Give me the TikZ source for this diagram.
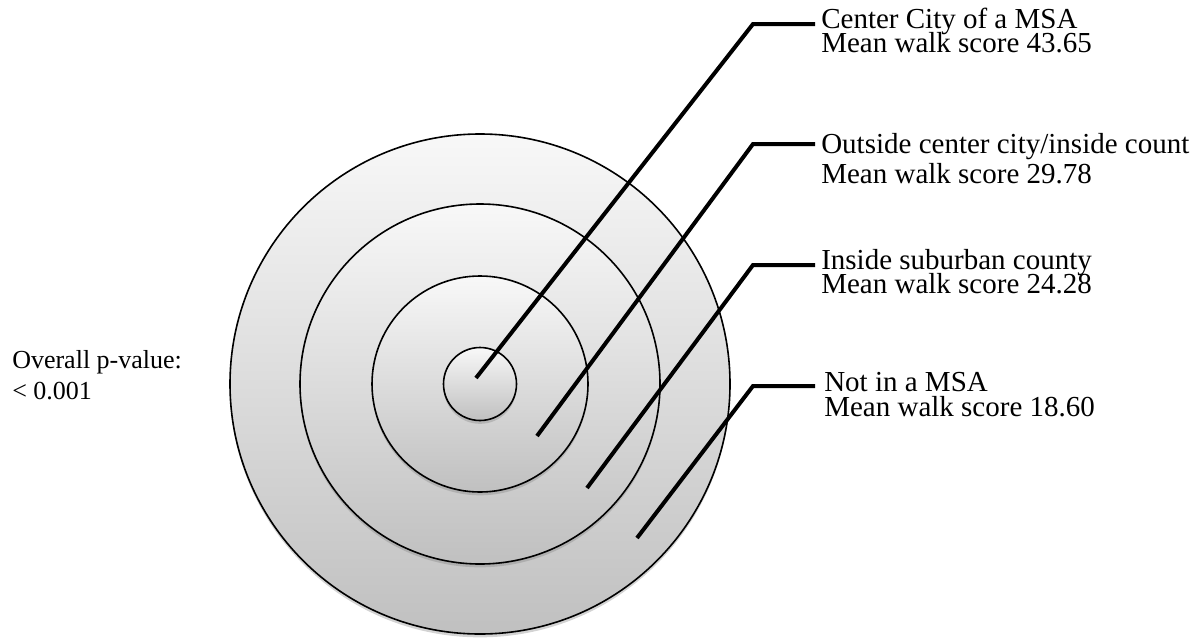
\documentclass[tikz,border=0pt]{standalone}
\usepackage{fontspec}
\setmainfont{Liberation Serif}
\usetikzlibrary{positioning,shadows}
\definecolor{ringtop}{RGB}{248,248,248}
\definecolor{ringbottom}{RGB}{192,192,192}
\newcommand{\tightlines}{\lineskiplimit=-50pt\relax}

\tikzset{
  ring/.style={circle, draw=black, line width=1.2pt, inner sep=0pt, outer sep=0pt,
    top color=ringtop, bottom color=ringbottom,
    drop shadow={shadow xshift=0pt, shadow yshift=-2.5pt, opacity=0.35}},
  leader/.style={line width=3pt, line join=miter},
  zone/.style={anchor=base west, align=left, inner xsep=4.5pt, inner ysep=0pt,
    font=\fontsize{21.75}{18}\selectfont\tightlines}
}

\begin{document}
\begin{tikzpicture}[x=0.75pt, y=-0.75pt]
\useasboundingbox (0,0) rectangle (1201,639);

% rings, outside in
\node[ring, minimum size=375pt] (msa) at (480,384) {};
\node[ring, minimum size=270pt] (county) at (480,384) {};
\node[ring, minimum size=162pt] (suburb) at (480,384) {};
\node[ring, minimum size=54.75pt] (city) at (480,384) {};

% labels (placed by the baseline of their last line)
\node[zone] (cityLab) at (815,52) {Center City of a MSA\\Mean walk score 43.65};
\node[zone, font=\fontsize{21.75}{22.5}\selectfont\tightlines] (countyLab) at (815,183)
  {Outside center city/inside count\\Mean walk score 29.78};
\node[zone] (suburbLab) at (815,293) {Inside suburban county\\Mean walk score 24.28};
\node[zone, inner xsep=6.75pt, font=\fontsize{21.75}{18.75}\selectfont\tightlines] (msaLab) at (815,416)
  {Not in a MSA\\Mean walk score 18.60};

\node[anchor=base west, align=left, inner sep=0pt,
      font=\fontsize{19.5}{23.25}\selectfont] (pval) at (12,399)
  {Overall p-value:\\< 0.001};

% leaders
\coordinate (cityTip) at (476,378);
\coordinate (cityBend) at (753,24);
\coordinate (countyTip) at (537,436);
\coordinate (countyBend) at (753,144);
\coordinate (suburbTip) at (587,488);
\coordinate (suburbBend) at (753,265);
\coordinate (msaTip) at (637,538);
\coordinate (msaBend) at (753,386);

\draw[leader] (cityTip) -- (cityBend) -- (cityBend -| cityLab.west);
\draw[leader] (countyTip) -- (countyBend) -- (countyBend -| countyLab.west);
\draw[leader] (suburbTip) -- (suburbBend) -- (suburbBend -| suburbLab.west);
\draw[leader] (msaTip) -- (msaBend) -- (msaBend -| msaLab.west);
\end{tikzpicture}
\end{document}
